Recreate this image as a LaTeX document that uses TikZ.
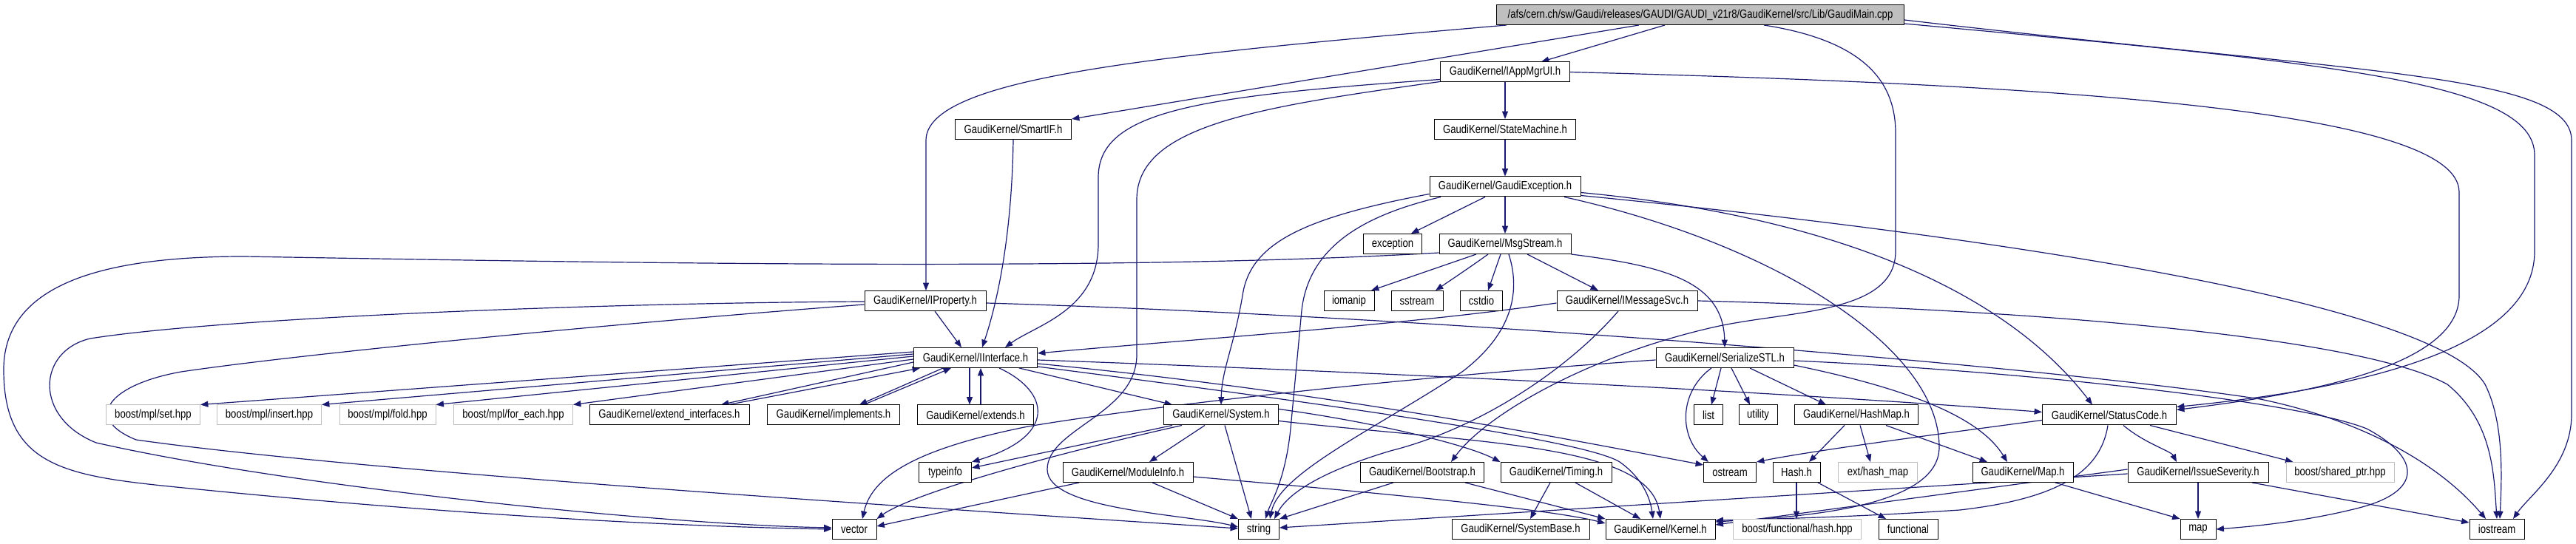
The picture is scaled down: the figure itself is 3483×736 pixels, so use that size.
\documentclass[tikz,border=0pt]{standalone}
\usepackage{fontspec}
\setmainfont{Liberation Sans}[FakeStretch=0.82]
\usetikzlibrary{arrows.meta}
\definecolor{edgec}{HTML}{191970}
\definecolor{lgray}{HTML}{BFBFBF}
\newcommand\nodefont{\fontsize{4pt}{5pt}\selectfont}
\pgfdeclarelayer{bg}
\pgfsetlayers{bg,main}
\tikzset{
  box/.style={draw=black, fill=white, line width=0.25pt, minimum height=6.75pt, inner sep=0pt, font=\nodefont, text=black},
  gbox/.style={box, draw=lgray},
  rootbox/.style={box, fill=lgray},
  bw/.style={minimum width=#1*0.25pt},
  e/.style={draw=edgec, line width=0.3pt, -{Triangle[length=2.6pt,width=2pt]}},
}
\begin{document}
\begin{tikzpicture}[x=0.25pt, y=-0.25pt]
\useasboundingbox (0,0) rectangle (3483,736);
% row 0
\node[rootbox,bw=551] (root) at (2299,20) {/afs/cern.ch/sw/Gaudi/releases/GAUDI/GAUDI\_v21r8/GaudiKernel/src/Lib/GaudiMain.cpp};
% row 1
\node[box,bw=175] (appmgr) at (2035,97.5) {GaudiKernel/IAppMgrUI.h};
% row 2
\node[box,bw=157] (smartif) at (1370,175) {GaudiKernel/SmartIF.h};
\node[box,bw=191] (statem) at (2035,175) {GaudiKernel/StateMachine.h};
% row 3
\node[box,bw=204] (gexc) at (2035,252.5) {GaudiKernel/GaudiException.h};
% row 4
\node[box,bw=79] (exception) at (1883,330) {exception};
\node[box,bw=178] (msgstream) at (2035,330) {GaudiKernel/MsgStream.h};
% row 5
\node[box,bw=164] (iproperty) at (1251,407) {GaudiKernel/IProperty.h};
\node[box,bw=68] (iomanip) at (1824,407) {iomanip};
\node[box,bw=70] (sstream) at (1916,407) {sstream};
\node[box,bw=57] (cstdio) at (2003,407) {cstdio};
\node[box,bw=190] (imsgsvc) at (2200,407) {GaudiKernel/IMessageSvc.h};
% row 6
\node[box,bw=167] (iinterface) at (1319,484) {GaudiKernel/IInterface.h};
\node[box,bw=186] (serial) at (2332,484) {GaudiKernel/SerializeSTL.h};
% row 7
\node[gbox,bw=127] (mplset) at (207,561.5) {boost/mpl/set.hpp};
\node[gbox,bw=141] (mplinsert) at (364,561.5) {boost/mpl/insert.hpp};
\node[gbox,bw=130] (mplfold) at (524,561.5) {boost/mpl/fold.hpp};
\node[gbox,bw=161] (mplforeach) at (694,561.5) {boost/mpl/for\_each.hpp};
\node[box,bw=216] (extint) at (905,561.5) {GaudiKernel/extend\_interfaces.h};
\node[box,bw=179] (implements) at (1127,561.5) {GaudiKernel/implements.h};
\node[box,bw=157] (extends) at (1319,561.5) {GaudiKernel/extends.h};
\node[box,bw=155] (system) at (1651,561.5) {GaudiKernel/System.h};
\node[box,bw=39] (list) at (2310,561.5) {list};
\node[box,bw=52] (utility) at (2377,561.5) {utility};
\node[box,bw=167] (hashmap) at (2510,561.5) {GaudiKernel/HashMap.h};
\node[box,bw=181] (statuscode) at (2852,561.5) {GaudiKernel/StatusCode.h};
% row 8
\node[box,bw=71] (typeinfo) at (1278,639) {typeinfo};
\node[box,bw=176] (moduleinfo) at (1525,639) {GaudiKernel/ModuleInfo.h};
\node[box,bw=167] (bootstrap) at (1923,639) {GaudiKernel/Bootstrap.h};
\node[box,bw=150] (timing) at (2104,639) {GaudiKernel/Timing.h};
\node[box,bw=71] (ostream) at (2339,639) {ostream};
\node[box,bw=64] (hash) at (2429,639) {Hash.h};
\node[gbox,bw=107] (exthashmap) at (2539,639) {ext/hash\_map};
\node[box,bw=136] (maph) at (2735,639) {GaudiKernel/Map.h};
\node[box,bw=190] (issue) at (2972,639) {GaudiKernel/IssueSeverity.h};
\node[gbox,bw=146] (sharedptr) at (3164,639) {boost/shared\_ptr.hpp};
% row 9
\node[box,bw=60] (vector) at (1155,716) {vector};
\node[box,bw=55] (string) at (1702,716) {string};
\node[box,bw=186] (systembase) at (2056,716) {GaudiKernel/SystemBase.h};
\node[box,bw=148] (kernel) at (2245,716) {GaudiKernel/Kernel.h};
\node[gbox,bw=173] (fhash) at (2430,716) {boost/functional/hash.hpp};
\node[box,bw=80] (functional) at (2580,716) {functional};
\node[box,bw=48] (map) at (2972,716) {map};
\node[box,bw=74] (iostream) at (3376,716) {iostream};

\begin{pgfonlayer}{bg}
\fill[white] (0,0) rectangle (3483,736);
% root
\draw[e] ([shift={(-48,0)}]root.south) -- ([shift={(49,0)}]appmgr.north);
\draw[e] ([shift={(-83,0)}]root.south) -- (smartif.north east);
\draw[e] ([shift={(-262,0)}]root.south) .. controls (1560,75) and (1252,105) .. (1252,190) -- ([shift={(1,0)}]iproperty.north);
\draw[e] ([shift={(86,0)}]root.south) .. controls (2520,55) and (2563,110) .. (2563,180) -- (2563,340) .. controls (2563,425) and (2420,420) .. (2320,442) .. controls (2150,480) and (2010,560) .. ([shift={(39,0)}]bootstrap.north);
\draw[e] ([shift={(0,7)}]root.east) .. controls (3200,100) and (3477,100) .. (3477,190) -- (3477,560) .. controls (3477,630) and (3420,670) .. ([shift={(22,0)}]iostream.north);
\draw[e] ([shift={(0,12)}]root.east) .. controls (3150,85) and (3427,110) .. (3427,210) -- (3427,340) .. controls (3427,470) and (3200,525) .. ([shift={(0,3)}]statuscode.north east);
% appmgr
\draw[e] (appmgr) -- (statem);
\draw[e] ([shift={(0,10)}]appmgr.west) .. controls (1620,130) and (1485,150) .. (1485,240) -- (1485,330) .. controls (1485,420) and (1400,440) .. ([shift={(40,0)}]iinterface.north);
\draw[e] ([shift={(0,13)}]appmgr.west) .. controls (1700,145) and (1537,170) .. (1537,270) -- (1537,480) .. controls (1537,560) and (1416,580) .. (1416,635) .. controls (1416,690) and (1600,695) .. ([shift={(0,-3)}]string.west);
\draw[e] (appmgr.east) .. controls (2800,115) and (3325,150) .. (3325,260) -- (3325,400) .. controls (3325,500) and (3100,535) .. ([shift={(0,7)}]statuscode.north east);
% smartif
\draw[e] (smartif.south) .. controls (1368,330) and (1345,420) .. ([shift={(9,0)}]iinterface.north);
% statem
\draw[e] (statem) -- (gexc);
% gexc
\draw[e] ([shift={(-27,0)}]gexc.south) -- ([shift={(25,0)}]exception.north);
\draw[e] (gexc) -- (msgstream);
\draw[e] ([shift={(0,10)}]gexc.west) .. controls (1760,295) and (1690,330) .. (1680,400) .. controls (1668,470) and (1652,500) .. (system.north);
\draw[e] ([shift={(-87,0)}]gexc.south) .. controls (1850,290) and (1770,330) .. (1760,420) -- (1745,580) .. controls (1738,650) and (1718,680) .. ([shift={(9,0)}]string.north);
\draw[e] ([shift={(80,0)}]gexc.south) .. controls (2400,330) and (2622,470) .. (2622,605) .. controls (2622,690) and (2420,700) .. ([shift={(0,-10)}]kernel.east);
\draw[e] ([shift={(0,8)}]gexc.east) .. controls (2450,290) and (2700,380) .. ([shift={(-23,0)}]statuscode.north);
\draw[e] ([shift={(0,12)}]gexc.east) .. controls (2800,330) and (3300,420) .. (3360,520) .. controls (3385,570) and (3383,640) .. ([shift={(4,0)}]iostream.north);
% msgstream
\draw[e] ([shift={(0,12)}]msgstream.west) .. controls (1500,368) and (800,355) .. (330,347) .. controls (150,347) and (5,380) .. (5,500) .. controls (5,640) and (100,645) .. (268,662) .. controls (600,695) and (900,712) .. (vector.west);
\draw[e] ([shift={(-39,0)}]msgstream.south) -- ([shift={(30,0)}]iomanip.north);
\draw[e] ([shift={(-23,0)}]msgstream.south) .. controls (1990,360) and (1960,380) .. ([shift={(25,0)}]sstream.north);
\draw[e] ([shift={(-6,0)}]msgstream.south) -- ([shift={(9,0)}]cstdio.north);
\draw[e] ([shift={(5,0)}]msgstream.south) .. controls (2058,400) and (2040,455) .. (1977,503) .. controls (1860,580) and (1730,640) .. ([shift={(15,0)}]string.north);
\draw[e] ([shift={(30,0)}]msgstream.south) -- ([shift={(-39,0)}]imsgsvc.north);
\draw[e] (msgstream.south east) .. controls (2250,360) and (2330,380) .. (serial.north);
% iproperty
\draw[e] ([shift={(13,0)}]iproperty.south) -- ([shift={(-19,0)}]iinterface.north);
\draw[e] ([shift={(0,1)}]iproperty.west) .. controls (800,410) and (300,430) .. (122,458) .. controls (50,475) and (45,565) .. (130,599) .. controls (400,660) and (900,710) .. ([shift={(0,-2)}]vector.west);
\draw[e] ([shift={(0,5)}]iproperty.west) .. controls (800,440) and (400,480) .. (245,503) .. controls (150,520) and (110,565) .. (184,595) .. controls (500,640) and (1300,690) .. ([shift={(0,-1)}]string.west);
\draw[e] ([shift={(0,3)}]iproperty.east) .. controls (2000,430) and (2800,500) .. (3056,540) .. controls (3200,570) and (3300,630) .. ([shift={(-15,0)}]iostream.north);
% imsgsvc
\draw[e] ([shift={(0,3)}]imsgsvc.west) .. controls (1900,440) and (1600,460) .. ([shift={(0,-6)}]iinterface.east);
\draw[e] ([shift={(-12,0)}]imsgsvc.south) .. controls (2120,500) and (2000,580) .. (1880,610) .. controls (1780,640) and (1740,670) .. ([shift={(21,0)}]string.north);
\draw[e] (imsgsvc.east) .. controls (2800,420) and (3200,460) .. (3309,520) .. controls (3370,570) and (3372,640) .. (iostream.north);
% iinterface
\draw[e] ([shift={(0,-8)}]iinterface.west) -- (mplset.north east);
\draw[e] ([shift={(0,-5)}]iinterface.west) -- (mplinsert.north east);
\draw[e] ([shift={(0,-2)}]iinterface.west) -- (mplfold.north east);
\draw[e] ([shift={(0,2)}]iinterface.west) -- (mplforeach.north east);
\draw[e] ([shift={(0,6)}]iinterface.west) -- ([shift={(70,0)}]extint.north);
\draw[e] ([shift={(-44,0)}]iinterface.south) -- ([shift={(35,0)}]implements.north);
\draw[e] ([shift={(-8,0)}]iinterface.south) -- ([shift={(-8,0)}]extends.north);
\draw[e] ([shift={(32,0)}]iinterface.south) .. controls (1420,530) and (1430,590) .. (typeinfo.north east);
\draw[e] ([shift={(59,0)}]iinterface.south) -- ([shift={(-66,0)}]system.north);
\draw[e] ([shift={(0,3)}]iinterface.east) .. controls (1900,505) and (2400,530) .. ([shift={(0,-4)}]statuscode.west);
\draw[e] ([shift={(0,8)}]iinterface.east) .. controls (1800,530) and (2150,600) .. ([shift={(0,-10)}]ostream.west);
\draw[e] ([shift={(0,12)}]iinterface.east) .. controls (1900,560) and (2150,600) .. (2190,625) .. controls (2225,650) and (2232,680) .. ([shift={(-10,0)}]kernel.north);
% back edges to iinterface
\draw[e] ([shift={(80,0)}]extint.north) -- ([shift={(-75,0)}]iinterface.south);
\draw[e] ([shift={(41,0)}]implements.north) -- ([shift={(-33,0)}]iinterface.south);
\draw[e] ([shift={(7,0)}]extends.north) -- ([shift={(7,0)}]iinterface.south);
% system
\draw[e] ([shift={(-66,0)}]system.south) -- ([shift={(0,-6)}]typeinfo.east);
\draw[e] ([shift={(-53,0)}]system.south) .. controls (1400,620) and (1230,670) .. (vector.north east);
\draw[e] ([shift={(-22,0)}]system.south) -- ([shift={(29,0)}]moduleinfo.north);
\draw[e] ([shift={(5,0)}]system.south) -- ([shift={(-10,0)}]string.north);
\draw[e] ([shift={(0,-8)}]system.east) .. controls (1850,570) and (1980,600) .. (timing.north west);
\draw[e] ([shift={(0,8)}]system.east) .. controls (2000,600) and (2230,600) .. (kernel.north);
% moduleinfo
\draw[e] ([shift={(0,6)}]moduleinfo.east) .. controls (1900,670) and (2100,690) .. ([shift={(0,-8)}]kernel.west);
\draw[e] ([shift={(33,0)}]moduleinfo.south) -- (string.north west);
\draw[e] ([shift={(-66,0)}]moduleinfo.south) -- ([shift={(0,-4)}]vector.east);
% bootstrap
\draw[e] ([shift={(-39,0)}]bootstrap.south) -- (string.north east);
\draw[e] ([shift={(58,0)}]bootstrap.south) -- (kernel.north west);
% timing
\draw[e] ([shift={(-8,0)}]timing.south) -- ([shift={(13,0)}]systembase.north);
\draw[e] ([shift={(26,0)}]timing.south) -- ([shift={(-27,0)}]kernel.north);
% serial
\draw[e] ([shift={(0,3)}]serial.west) .. controls (1900,510) and (1550,550) .. (1390,577) .. controls (1250,605) and (1180,640) .. ([shift={(11,0)}]vector.north);
\draw[e] ([shift={(-18,0)}]serial.south) .. controls (2270,530) and (2270,590) .. ([shift={(-29,0)}]ostream.north);
\draw[e] ([shift={(-5,0)}]serial.south) -- ([shift={(4,0)}]list.north);
\draw[e] ([shift={(9,0)}]serial.south) -- ([shift={(-11,0)}]utility.north);
\draw[e] ([shift={(34,0)}]serial.south) -- ([shift={(-41,0)}]hashmap.north);
\draw[e] ([shift={(0,10)}]serial.east) .. controls (2600,530) and (2680,570) .. ([shift={(-21,0)}]maph.north);
\draw[e] ([shift={(0,4)}]serial.east) .. controls (2700,500) and (3100,540) .. (3200,580) .. controls (3275,620) and (3275,665) .. (3190,687) .. controls (3120,705) and (3050,712) .. (map.east);
% hashmap
\draw[e] ([shift={(-16,0)}]hashmap.south) -- ([shift={(17,0)}]hash.north);
\draw[e] ([shift={(5,0)}]hashmap.south) -- ([shift={(-10,0)}]exthashmap.north);
\draw[e] ([shift={(40,0)}]hashmap.south) -- ([shift={(-48,0)}]maph.north);
% hash
\draw[e] (hash.south) -- ([shift={(-1,0)}]fhash.north);
\draw[e] ([shift={(29,0)}]hash.south) -- ([shift={(-30,0)}]functional.north);
% maph
\draw[e] ([shift={(44,0)}]maph.south) -- (map.north west);
% statuscode
\draw[e] ([shift={(0,7)}]statuscode.west) .. controls (2600,590) and (2450,610) .. (ostream.north east);
\draw[e] ([shift={(19,0)}]statuscode.south) .. controls (2900,600) and (2935,610) .. ([shift={(-29,0)}]issue.north);
\draw[e] ([shift={(55,0)}]statuscode.south) -- ([shift={(10,0)}]sharedptr.north west);
\draw[e] ([shift={(-2,0)}]statuscode.south) .. controls (2840,640) and (2780,675) .. (2650,690) .. controls (2500,700) and (2400,702) .. ([shift={(0,-12)}]kernel.east);
% issue
\draw[e] (issue.south) -- (map.north);
\draw[e] ([shift={(73,0)}]issue.south) -- ([shift={(0,-9)}]iostream.west);
\draw[e] ([shift={(0,-4)}]issue.west) -- ([shift={(0,-6)}]kernel.east);
\draw[e] ([shift={(0,2)}]issue.west) -- ([shift={(0,-2)}]string.east);
\end{pgfonlayer}
\end{tikzpicture}
\end{document}
